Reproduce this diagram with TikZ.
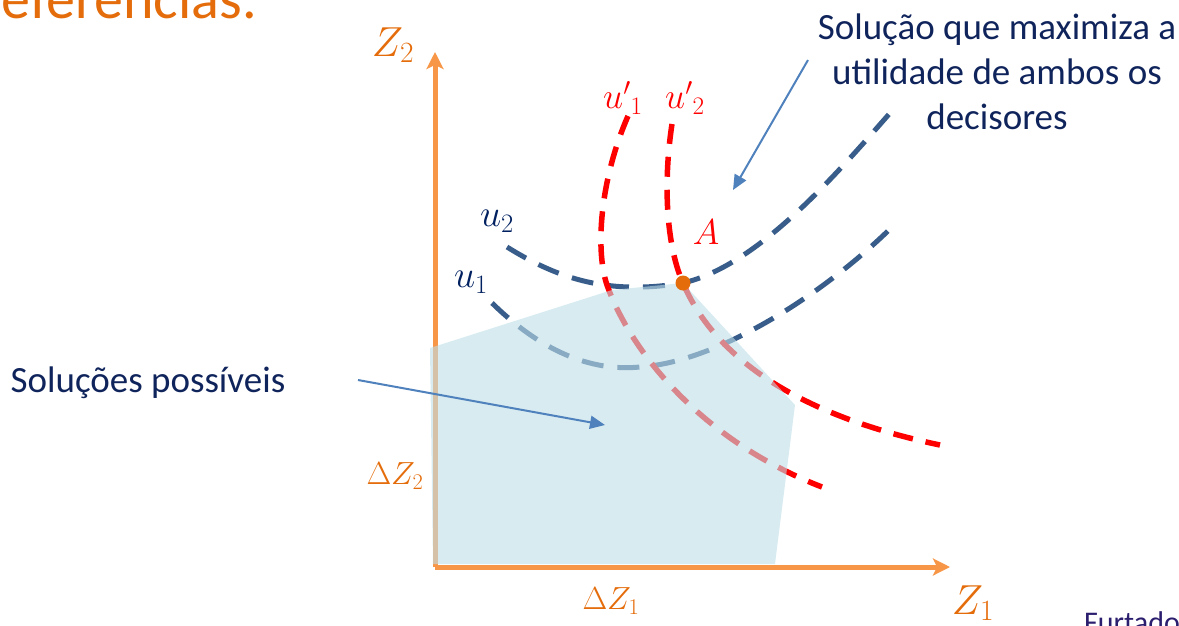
\RequirePackage{fix-cm}
\documentclass[tikz,border=0pt]{standalone}
\usepackage{fontspec}
\setmainfont{Carlito}
\usepackage{xcolor}
\usetikzlibrary{arrows.meta, positioning}
\definecolor{axisorange}{RGB}{247,150,70}
\definecolor{labelorange}{RGB}{228,108,10}
\definecolor{curvenavy}{RGB}{56,93,138}
\definecolor{labelnavy}{RGB}{0,32,96}
\definecolor{textnavy}{RGB}{16,36,92}
\definecolor{pointerblue}{RGB}{79,129,189}
\definecolor{regionblue}{RGB}{190,222,232}
\definecolor{authorpurple}{RGB}{44,30,110}
\tikzset{
  axisline/.style={line width=5pt, draw=axisorange,
                   -{Stealth[length=17pt, width=17pt, inset=4pt]}},
  ucurve/.style={line width=5pt, draw=curvenavy, dash pattern=on 22pt off 14pt},
  uprime/.style={line width=5.5pt, draw=red, dash pattern=on 20pt off 13pt},
  region/.style={fill=regionblue, fill opacity=0.6, draw=none},
  pointer/.style={line width=2pt, draw=pointerblue,
                  -{Triangle[length=15pt, width=13pt]}},
  axislabel/.style={text=labelorange, font=\fontsize{42}{44}\selectfont},
  deltalabel/.style={text=labelorange, font=\fontsize{32}{34}\selectfont},
  ulabel/.style={text=labelnavy, font=\fontsize{38}{40}\selectfont},
  uplabel/.style={text=red, font=\fontsize{36}{38}\selectfont},
  notetext/.style={text=textnavy, font=\fontsize{37}{45}\selectfont, align=center},
}

\begin{document}
\begin{tikzpicture}[x=1pt, y=-1pt]
  \useasboundingbox (0,0) rectangle (1179,625);
  \clip (0,0) rectangle (1179,625);

  % cut-off title and author
  \node[anchor=base east, text=labelorange, font=\fontsize{58}{60}\selectfont,
        inner sep=0pt] (titulo) at (257,18) {Preferências.};
  \node[anchor=base west, text=authorpurple, font=\fontsize{30}{32}\selectfont,
        inner sep=0pt] (autor) at (1084,632) {Furtado};

  % axes
  \coordinate (origem) at (435,567);
  \coordinate (topoz2) at (435,52);
  \coordinate (fimz1) at (950,567);
  \draw[axisline] (origem) -- (topoz2);
  \draw[axisline] (origem) -- (fimz1);

  % indifference curves
  \coordinate (A) at (683,283);
  \draw[ucurve] (507,247) .. controls (560,280) and (610,295) .. (A)
                .. controls (760,265) and (840,170) .. (897,105);
  \draw[ucurve] (492,303) .. controls (540,350) and (590,372) .. (640,367)
                .. controls (720,362) and (830,290) .. (897,222);
  \draw[uprime] (628,116) .. controls (600,180) and (595,250) .. (607,285)
                .. controls (630,350) and (700,440) .. (822,487);
  \draw[uprime] (672,124) .. controls (662,190) and (668,250) .. (A)
                .. controls (720,370) and (820,420) .. (940,445);

  % feasible solutions
  \fill[region] (430,348) -- (612,290) -- (A) -- (795,405) -- (775,564)
                -- (433,564) -- cycle;
  \fill[labelorange] (A) circle (7.5);

  % labels
  \node[axislabel] (lz2) at (393,45) {$Z_2$};
  \node[axislabel] (lz1) at (973,603) {$Z_1$};
  \node[deltalabel] (ldz2) at (395,476) {$\Delta Z_2$};
  \node[deltalabel] (ldz1) at (611,601) {$\Delta Z_1$};
  \node[ulabel] (lu2) at (497,221) {$u_2$};
  \node[ulabel] (lu1) at (471,282) {$u_1$};
  \node[uplabel] (lup1) at (623,98) {${u'}_1$};
  \node[uplabel] (lup2) at (685,98) {${u'}_2$};
  \node[uplabel] (lA) at (706,232) {$A$};

  % notes
  \node[notetext] (maximiza) at (997,72)
    {Solução que maximiza a\\ utilidade de ambos os\\ decisores};
  \node[notetext] (possiveis) at (148,383) {Soluções possíveis};

  \coordinate (pmax) at (808,60);
  \coordinate (tmax) at (733,190);
  \coordinate (pposs) at (358,380);
  \coordinate (tposs) at (605,425);
  \draw[pointer] (pmax) -- (tmax);
  \draw[pointer] (pposs) -- (tposs);
\end{tikzpicture}
\end{document}
